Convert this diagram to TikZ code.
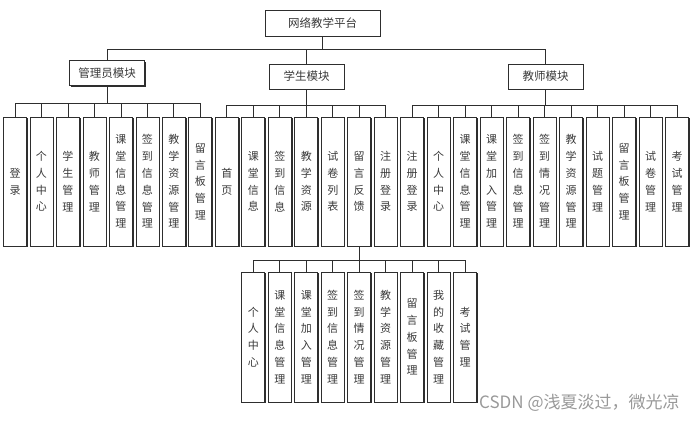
\documentclass[tikz,border=0pt]{standalone}
\usepackage{fontspec}
\newfontfamily\cjk{Noto Sans CJK SC}
\usetikzlibrary{positioning, shadows}
\definecolor{cline}{HTML}{2E2E2E}
\definecolor{ctext}{HTML}{3A3A3A}
\tikzset{
  every picture/.style={x=1pt, y=-1pt, line width=0.8pt},
  box/.style={draw=cline, fill=white, text=ctext, inner sep=0pt,
    drop shadow={shadow xshift=1.2pt, shadow yshift=-1.2pt, opacity=1, fill=cline},
    font=\cjk\fontsize{11.5}{14}\selectfont},
  topbox/.style={box, minimum width=115pt, minimum height=26pt},
  modbox/.style={box, minimum width=75pt, minimum height=25pt},
  leaf/.style={box, minimum width=23pt, minimum height=129pt, align=center,
    font=\cjk\fontsize{11}{16.8}\selectfont},
  link/.style={draw=cline, line width=0.8pt},
  watermark/.style={font=\cjk\fontsize{17}{19}\selectfont, text=black!40, inner sep=0pt},
}

\begin{document}
\begin{tikzpicture}
  \useasboundingbox (0,0) rectangle (695,423);
  % platform and the three modules
  \node[topbox] (root) at (322.5,23) {网络教学平台};
  \node[modbox] (admin) at (107,73) {管理员模块};
  \node[modbox] (student) at (306.5,76.5) {学生模块};
  \node[modbox] (teacher) at (545.5,76.5) {教师模块};
  \path (root.south) ++(0,13) coordinate (bus);
  \draw[link] (root) -- (bus);
  \foreach \m in {admin,student,teacher} \draw[link] (\m.north) |- (bus);
  % function leaves, one column each
  \foreach \k/\n/\t in {0/a1/登\\录, 1/a2/个\\人\\中\\心, 2/a3/学\\生\\管\\理, 3/a4/教\\师\\管\\理,
      4/a5/课\\堂\\信\\息\\管\\理, 5/a6/签\\到\\信\\息\\管\\理, 6/a7/教\\学\\资\\源\\管\\理, 7/a8/留\\言\\板\\管\\理,
      8/s1/首\\页, 9/s2/课\\堂\\信\\息, 10/s3/签\\到\\信\\息, 11/s4/教\\学\\资\\源,
      12/s5/试\\卷\\列\\表, 13/s6/留\\言\\反\\馈, 14/s7/注\\册\\登\\录,
      15/t1/注\\册\\登\\录, 16/t2/个\\人\\中\\心, 17/t3/课\\堂\\信\\息\\管\\理, 18/t4/课\\堂\\加\\入\\管\\理,
      19/t5/签\\到\\信\\息\\管\\理, 20/t6/签\\到\\情\\况\\管\\理, 21/t7/教\\学\\资\\源\\管\\理, 22/t8/试\\题\\管\\理,
      23/t9/留\\言\\板\\管\\理, 24/t10/试\\卷\\管\\理, 25/t11/考\\试\\管\\理}
    \node[leaf] (\n) at (15+26.48*\k,181.5) {\t};
  \path (admin.south) ++(0,17.5) coordinate (abus);
  \path (student.south) ++(0,16) coordinate (sbus);
  \path (teacher.south) ++(0,16) coordinate (tbus);
  \draw[link] (admin) -- (abus);
  \draw[link] (student) -- (sbus);
  \draw[link] (teacher) -- (tbus);
  \foreach \n in {a1,a2,a3,a4,a5,a6,a7,a8} \draw[link] (\n.north) |- (abus);
  \foreach \n in {s1,s2,s3,s4,s5,s6,s7} \draw[link] (\n.north) |- (sbus);
  \foreach \n in {t1,t2,t3,t4,t5,t6,t7,t8,t9,t10,t11} \draw[link] (\n.north) |- (tbus);
  % feedback sub-functions
  \foreach \j/\t in {0/个\\人\\中\\心, 1/课\\堂\\信\\息\\管\\理, 2/课\\堂\\加\\入\\管\\理, 3/签\\到\\信\\息\\管\\理,
      4/签\\到\\情\\况\\管\\理, 5/教\\学\\资\\源\\管\\理, 6/留\\言\\板\\管\\理, 7/我\\的\\收\\藏\\管\\理, 8/考\\试\\管\\理}
    \node[leaf, minimum height=130pt] (f\j) at (253.3+26.48*\j,337) {\t};
  \path (s6.south) ++(0,14) coordinate (fbus);
  \draw[link] (s6) -- (fbus);
  \foreach \j in {0,...,8} \draw[link] (f\j.north) |- (fbus);
  \node[watermark, anchor=east] (wm) at (680,403) {CSDN @浅夏淡过，微光凉};
\end{tikzpicture}
\end{document}
